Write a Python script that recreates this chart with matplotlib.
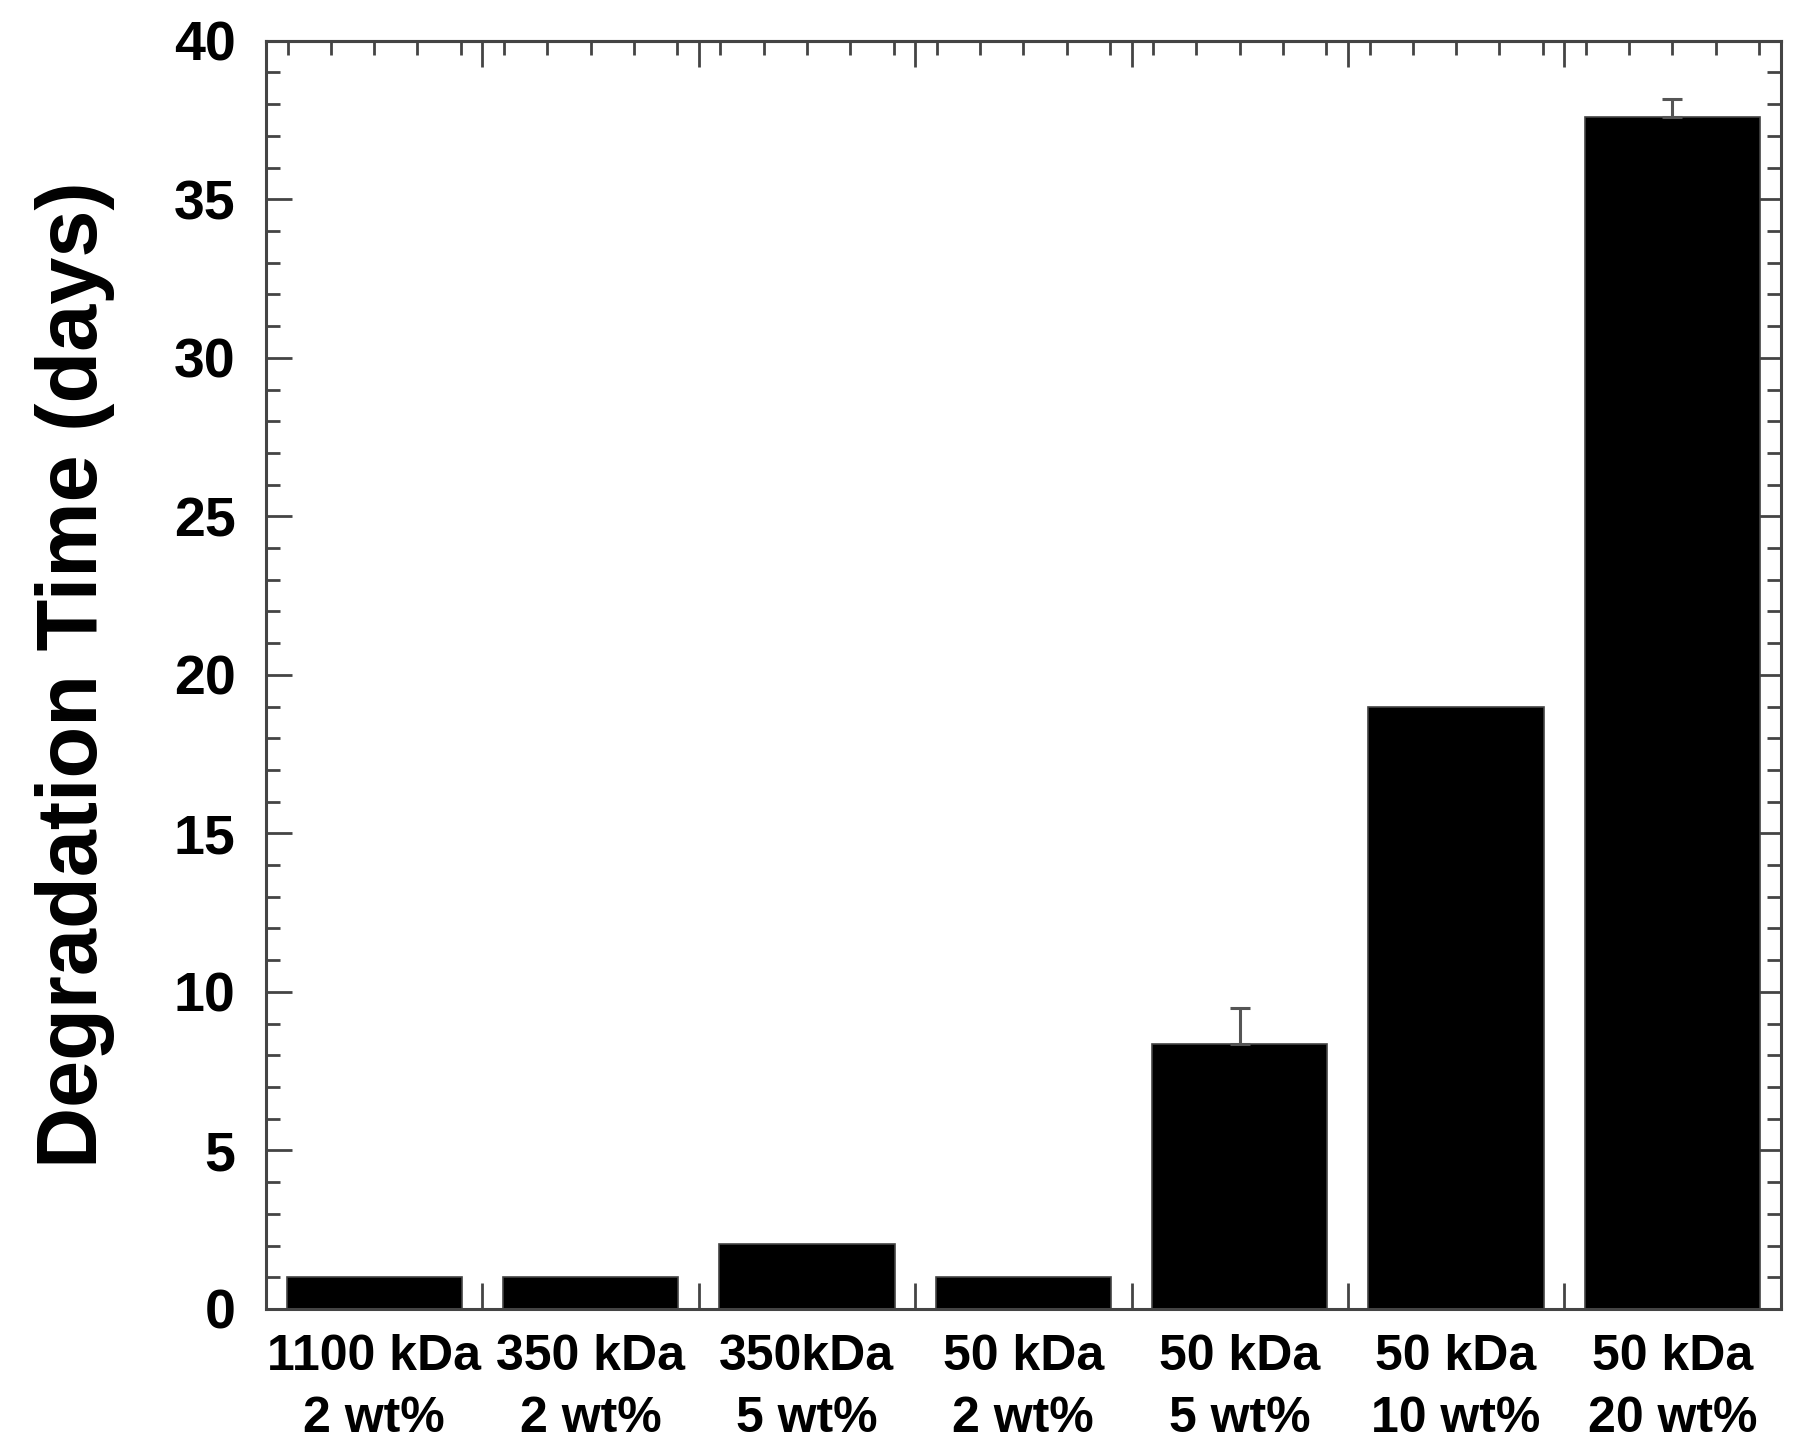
import numpy as np
import matplotlib.pyplot as plt
from matplotlib.ticker import MultipleLocator, FixedLocator

labels = ['1100 kDa\n2 wt%', '350 kDa\n2 wt%', '350kDa\n5 wt%', '50 kDa\n2 wt%',
          '50 kDa\n5 wt%', '50 kDa\n10 wt%', '50 kDa\n20 wt%']
days = [1.0, 1.0, 2.05, 1.0, 8.35, 19.0, 37.6]
err_up = [0, 0, 0, 0, 1.15, 0, 0.55]

plt.rcParams['font.family'] = ['Liberation Sans', 'DejaVu Sans']
plt.rcParams['font.weight'] = 'bold'

fig = plt.figure(figsize=(18.17, 14.56), dpi=100)
ax = fig.add_axes([0.1464, 0.101, 0.980 - 0.1464, 0.972 - 0.101])

x = np.arange(len(days))
ax.bar(x, days, width=0.81, color='black', edgecolor='#444444', linewidth=1.2, zorder=2)

# only the bars that have an error bar
has_err = [i for i, e in enumerate(err_up) if e > 0]
ax.errorbar(x[has_err], [days[i] for i in has_err],
            yerr=[np.zeros(len(has_err)), [err_up[i] for i in has_err]], fmt='none',
            ecolor='#555555', elinewidth=2.2, capsize=7, capthick=2.2, zorder=3)

ax.set_xlim(-0.5, 6.5)
ax.set_ylim(0, 40)

spine_c = '#444444'
for s in ax.spines.values():
    s.set_color(spine_c)
    s.set_linewidth(2.2)

# y ticks on both sides, pointing in
ax.yaxis.set_major_locator(MultipleLocator(5))
ax.yaxis.set_minor_locator(MultipleLocator(1))
ax.tick_params(axis='y', which='major', direction='in', length=19, width=2,
               color=spine_c, left=True, right=True, labelsize=40, pad=22)
ax.tick_params(axis='y', which='minor', direction='in', length=10, width=2,
               color=spine_c, left=True, right=True)

# bottom: labels at centres, short ticks at the category boundaries
ax.set_xticks(x)
ax.set_xticklabels(labels, fontsize=36, fontweight='bold', linespacing=1.45)
ax.xaxis.set_minor_locator(FixedLocator(np.arange(0.5, 6.5, 1.0)))
ax.tick_params(axis='x', which='major', length=0, pad=18, top=False)
ax.tick_params(axis='x', which='minor', direction='in', length=19, width=2,
               color=spine_c, top=False)

# top: boundaries long, fifths short
top = ax.secondary_xaxis('top')
top.xaxis.set_major_locator(FixedLocator(np.arange(-0.5, 7.0, 1.0)))
top.xaxis.set_minor_locator(MultipleLocator(0.2))
top.tick_params(which='major', direction='in', length=19, width=2, color=spine_c,
                labeltop=False)
top.tick_params(which='minor', direction='in', length=10, width=2, color=spine_c)
top.spines['top'].set_color(spine_c)
top.spines['top'].set_linewidth(2.2)

for t in ax.get_yticklabels():
    t.set_fontweight('bold')

ax.set_ylabel('Degradation Time (days)', fontsize=61, fontweight='bold')
ax.yaxis.set_label_coords(-0.10, 0.5)

fig.savefig('out.png', dpi=100)
